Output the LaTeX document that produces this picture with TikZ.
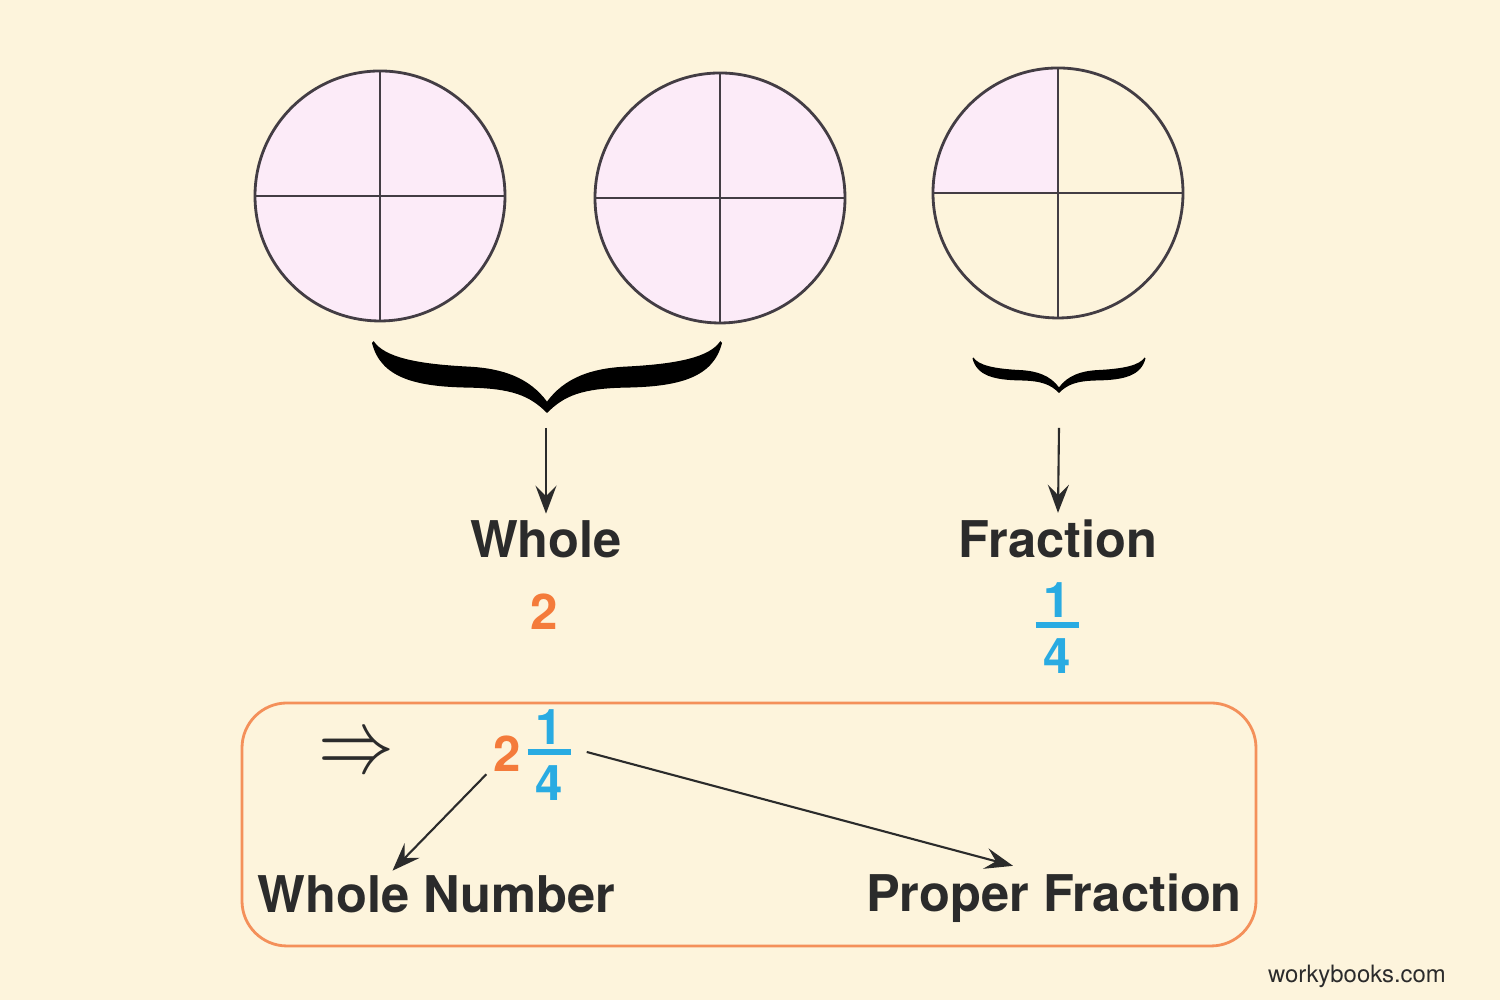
\documentclass[tikz,border=0pt]{standalone}
\usepackage{fontspec}
\setmainfont{TeX Gyre Heros}
\usetikzlibrary{arrows.meta}
\definecolor{cream}{HTML}{FDF4DC}
\definecolor{pinkfill}{HTML}{FCEBF8}
\definecolor{edge}{HTML}{433D44}
\definecolor{ink}{HTML}{2B2B2B}
\definecolor{numorange}{HTML}{F47B3B}
\definecolor{numblue}{HTML}{29ABE2}
\definecolor{boxorange}{HTML}{F4905A}

\newcommand{\quarterfrac}{\vbox{\offinterlineskip\halign{\hfil##\hfil\cr
    1\cr
    \noalign{\kern1.4pt}
    \vrule width 12.4pt height 1.6pt\cr
    \noalign{\kern3pt}
    4\cr}}}

\tikzset{
    curlybrace/.pic={
        \fill (0,0) .. controls (-0.1,0.1) and (-0.2,0.14) .. (-0.45,0.145) .. controls (-0.75,0.15) and (-0.95,0.2) .. (-1,0.4)
            -- (-0.99,0.41) .. controls (-0.93,0.32) and (-0.75,0.28) .. (-0.45,0.265) .. controls (-0.25,0.255) and (-0.1,0.2) .. (0,0.065) -- cycle;
        \fill[xscale=-1] (0,0) .. controls (-0.1,0.1) and (-0.2,0.14) .. (-0.45,0.145) .. controls (-0.75,0.15) and (-0.95,0.2) .. (-1,0.4)
            -- (-0.99,0.41) .. controls (-0.93,0.32) and (-0.75,0.28) .. (-0.45,0.265) .. controls (-0.25,0.255) and (-0.1,0.2) .. (0,0.065) -- cycle;
    }
}

\begin{document}
\begin{tikzpicture}[
    piece/.style={draw=edge, line width=0.8pt},
    headtext/.style={font=\fontsize{14.4}{17}\selectfont\bfseries, text=ink, anchor=base},
    numtext/.style={font=\fontsize{14}{17}\selectfont\bfseries, inner sep=0.5pt},
    link/.style={-{Stealth[length=8pt,width=6pt,inset=3pt]}, line width=0.6pt, draw=ink}
]
    \fill[cream] (0,0) rectangle (15,10);
    \useasboundingbox (0,0) rectangle (15,10);

    \filldraw[piece, fill=pinkfill] (3.80,8.04) circle (1.25);
    \draw[piece] (2.55,8.04) -- (5.05,8.04) (3.80,6.79) -- (3.80,9.29);
    \filldraw[piece, fill=pinkfill] (7.20,8.02) circle (1.25);
    \draw[piece] (5.95,8.02) -- (8.45,8.02) (7.20,6.77) -- (7.20,9.27);
    \fill[pinkfill] (10.58,8.07) -- (9.33,8.07) arc (180:90:1.25) -- cycle;
    \draw[piece] (10.58,8.07) circle (1.25);
    \draw[piece] (9.33,8.07) -- (11.83,8.07) (10.58,6.82) -- (10.58,9.32);

    \pic[scale=1.75, black] at (5.47,5.87) {curlybrace};
    \pic[scale=0.865, black] at (10.59,6.07) {curlybrace};

    \coordinate (bracewhole) at (5.46,5.72);
    \coordinate (bracefrac) at (10.59,5.72);

    \node[headtext] (whole) at (5.46,4.42) {Whole};
    \node[headtext] (fraction) at (10.58,4.42) {Fraction};
    \draw[link] (bracewhole) -- ([yshift=-0.5mm]whole.north);
    \draw[link] (bracefrac) -- ([yshift=-0.5mm]fraction.north);

    \node[numtext, text=numorange] (two) at (5.44,3.88) {2};
    \node[numtext, text=numblue] (quarter) at (10.575,3.72) {\quarterfrac};

    \draw[draw=boxorange, line width=0.8pt, rounded corners=0.45cm] (2.42,0.54) rectangle (12.56,2.97);

    \node[text=ink] (implies) at (3.565,2.44) {\fontsize{19}{22}\selectfont\scalebox{1.25}[1.5]{$\Rightarrow$}};
    \node[numtext, text=numorange] (twob) at (5.075,2.46) {2};
    \node[numtext, text=numblue] (quarterb) at (5.495,2.45) {\quarterfrac};

    \node[headtext] (wholenum) at (4.365,0.87) {Whole Number};
    \node[headtext] (propfrac) at (10.54,0.88) {Proper Fraction};
    \draw[link] ([xshift=-0.5mm]twob.south west) -- ([xshift=-4.4mm,yshift=-0.7mm]wholenum.north);
    \draw[link] ([xshift=1.3mm,yshift=0.3mm]quarterb.east) -- ([xshift=-4.1mm,yshift=-0.4mm]propfrac.north);

    \node[font=\fontsize{6.8}{8}\selectfont, text=ink, anchor=base] (site) at (13.57,0.17) {workybooks.com};
\end{tikzpicture}
\end{document}
